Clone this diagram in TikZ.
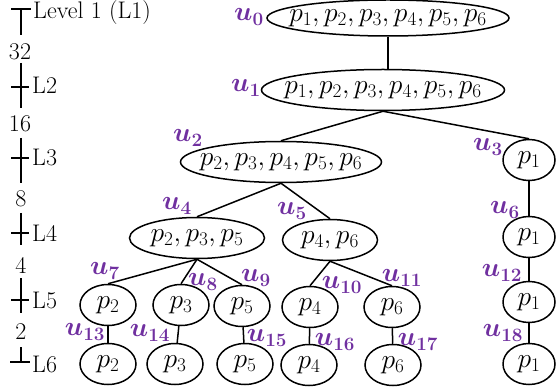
\RequirePackage{fix-cm}
\documentclass[tikz,border=0pt]{standalone}
\usetikzlibrary{shapes.geometric}
\definecolor{lblpurple}{RGB}{112,48,160}
\newcommand{\tx}[1]{\makebox[0pt]{\raisebox{-0.13em}[0pt][0pt]{$#1$}}}
\tikzset{
  set/.style={draw, line width=1.5pt, ellipse, inner sep=0pt, minimum height=41pt,
    font=\fontsize{27.5}{29}\selectfont},
  one/.style={set, minimum width=56pt},
  lbl/.style={text=lblpurple, inner sep=0pt, font=\fontsize{27}{29}\selectfont\boldmath},
  ax/.style={line width=1.4pt},
  axt/.style={inner sep=0pt, font=\fontsize{24}{26}\selectfont},
  edge/.style={line width=1.5pt}
}
\begin{document}
\begin{tikzpicture}[x=1pt,y=-1pt]
\useasboundingbox (0,0) rectangle (556,387);
% tree nodes
\node[set, minimum width=242pt, minimum height=36pt] (n0) at (388,18) {\tx{p_1,p_2,p_3,p_4,p_5,p_6}};
\node[set, minimum width=243pt] (n1) at (383,90) {\tx{p_1,p_2,p_3,p_4,p_5,p_6}};
\node[set, minimum width=201pt] (n2) at (281,162) {\tx{p_2,p_3,p_4,p_5,p_6}};
\node[one, minimum width=52pt] (n3) at (529,160) {\tx{p_1}};
\node[set, minimum width=135pt] (n4) at (197,238) {\tx{p_2,p_3,p_5}};
\node[set, minimum width=95pt] (n5) at (330,240) {\tx{p_4,p_6}};
\node[one, minimum width=52pt] (n6) at (529,237) {\tx{p_1}};
\node[one] (n7) at (108,305) {\tx{p_2}};
\node[one] (n8) at (181,305) {\tx{p_3}};
\node[one] (n9) at (242,306) {\tx{p_5}};
\node[one] (n10) at (310,307) {\tx{p_4}};
\node[one] (n11) at (392,307) {\tx{p_6}};
\node[one, minimum width=52pt] (n12) at (529,302) {\tx{p_1}};
\node[one] (n13) at (108,364) {\tx{p_2}};
\node[one] (n14) at (175,364) {\tx{p_3}};
\node[one] (n15) at (245,364) {\tx{p_5}};
\node[one] (n16) at (309,365) {\tx{p_4}};
\node[one] (n17) at (393,365) {\tx{p_6}};
\node[one, minimum width=52pt] (n18) at (529,364) {\tx{p_1}};
% edges
\draw[edge] (n0.south) -- (n0.south |- n1.north);
\draw[edge] (n1.south) -- (n2.north);
\draw[edge] (n1.south) -- (n3.north);
\draw[edge] (n2.south) -- (n4.north);
\draw[edge] (n2.south) -- (n5.north);
\draw[edge] (n3) -- (n6);
\draw[edge] (n4.south) -- (n7.north);
\draw[edge] (n4.south) -- (n8.north);
\draw[edge] (n4.south) -- (n9.north);
\draw[edge] (n5.south) -- (n10.north);
\draw[edge] (n5.south) -- (n11.north);
\draw[edge] (n6) -- (n12);
\draw[edge] (n7) -- (n13);
\draw[edge] (n8) -- (n14);
\draw[edge] (n9) -- (n15);
\draw[edge] (n10) -- (n16);
\draw[edge] (n11) -- (n17);
\draw[edge] (n12) -- (n18);
% labels
\node[lbl] (l0) at (249,17) {$u_{0}$};
\node[lbl] (l1) at (246,88) {$u_{1}$};
\node[lbl] (l2) at (188,138) {$u_{2}$};
\node[lbl] (l3) at (488,147) {$u_{3}$};
\node[lbl] (l4) at (177,206) {$u_{4}$};
\node[lbl] (l5) at (292,211) {$u_{5}$};
\node[lbl] (l6) at (505,210) {$u_{6}$};
\node[lbl] (l7) at (105,271) {$u_{7}$};
\node[lbl] (l8) at (203,282) {$u_{8}$};
\node[lbl] (l9) at (256,278) {$u_{9}$};
\node[lbl] (l10) at (342,285) {$u_{10}$};
\node[lbl] (l11) at (402,278) {$u_{11}$};
\node[lbl] (l12) at (502,273) {$u_{12}$};
\node[lbl] (l13) at (85,332) {$u_{13}$};
\node[lbl] (l14) at (150,333) {$u_{14}$};
\node[lbl] (l15) at (267,338) {$u_{15}$};
\node[lbl] (l16) at (335,342) {$u_{16}$};
\node[lbl] (l17) at (418,342) {$u_{17}$};
\node[lbl] (l18) at (503,333) {$u_{18}$};
% level axis
\draw[ax] (11,9) -- (31,9) (21,9) -- (21,35);
\node[axt, anchor=west] (t1) at (33,13) {Level 1 (L1)};
\node[axt] (d1) at (20,52) {32};
\draw[ax] (21,63) -- (21,108) (11,87) -- (29,87);
\node[axt, anchor=west] (t2) at (32,85) {L2};
\node[axt] (d2) at (20,124) {16};
\draw[ax] (21,138) -- (21,183) (11,158) -- (29,158);
\node[axt, anchor=west] (t3) at (32,157) {L3};
\node[axt] (d3) at (21,199) {8};
\draw[ax] (21,213) -- (21,245) (11,233) -- (29,233);
\node[axt, anchor=west] (t4) at (32,233) {L4};
\node[axt] (d4) at (21,265) {4};
\draw[ax] (21,278) -- (21,313) (11,300) -- (29,300);
\node[axt, anchor=west] (t5) at (32,300) {L5};
\node[axt] (d5) at (21,332) {2};
\draw[ax] (21,347) -- (21,362) (10,362) -- (30,362);
\node[axt, anchor=west] (t6) at (32,364) {L6};
\end{tikzpicture}
\end{document}
